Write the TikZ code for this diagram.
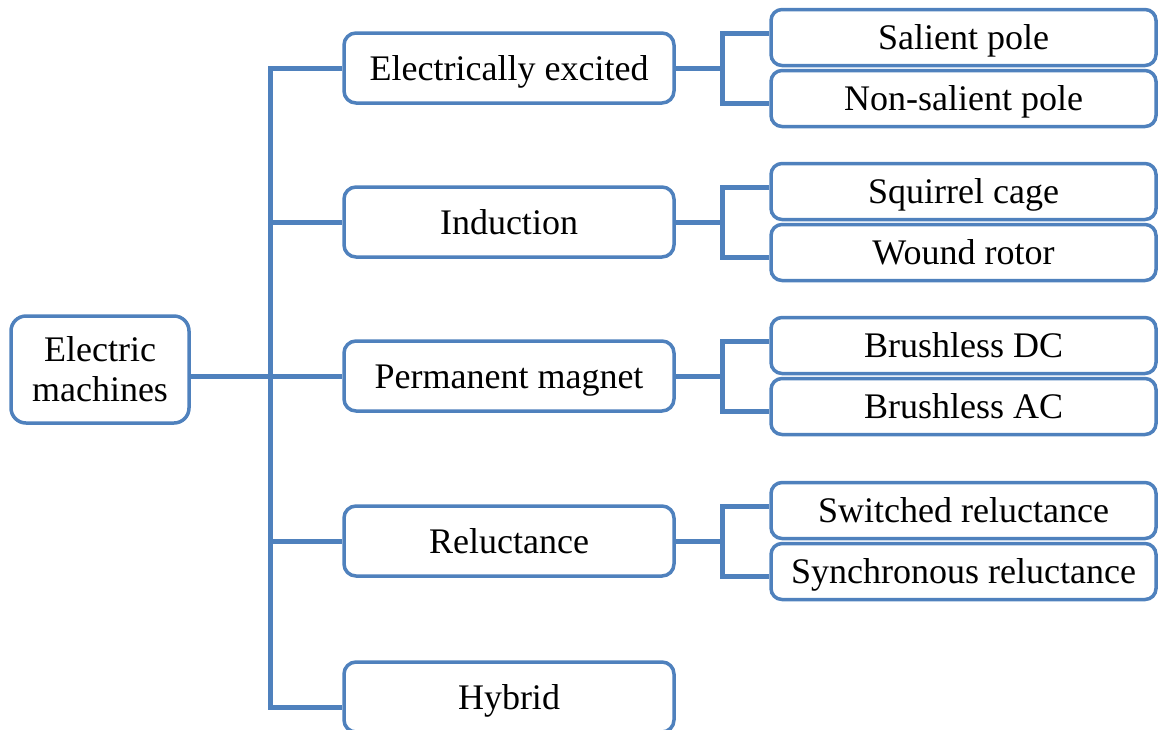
\documentclass[tikz,border=0pt]{standalone}
\usepackage{fontspec}
\setmainfont{Liberation Serif}
\definecolor{edge}{RGB}{79,129,189}
\begin{document}
\begin{tikzpicture}[x=1pt,y=-1pt,
  base/.style={draw=edge, line width=3.5pt, fill=white, align=center, inner sep=0pt,
    font=\fontsize{36}{40}\selectfont},
  rootbox/.style={base, rounded corners=15pt, minimum width=178pt, minimum height=107pt},
  midbox/.style={base, rounded corners=12pt, minimum width=330pt, minimum height=70pt,
    text height=28pt, text depth=4pt},
  subbox/.style={base, rounded corners=11pt, minimum width=385pt, minimum height=56pt,
    text height=28pt, text depth=4pt},
  link/.style={draw=edge, line width=5pt}]
\useasboundingbox (0,0) rectangle (1158,729);

% root and first level
\node[rootbox] (root) at (100,369.5) {Electric\\machines};
\node[midbox] (ee)  at (509,68)  {Electrically excited};
\node[midbox] (ind) at (509,222) {Induction};
\node[midbox] (pm)  at (509,376) {Permanent magnet};
\node[midbox] (rel) at (509,541) {Reluctance};
\node[midbox] (hyb) at (509,697) {Hybrid};

% second level
\node[subbox] (sal)  at (963.5,37.5)  {Salient pole};
\node[subbox] (nsal) at (963.5,98.5)  {Non-salient pole};
\node[subbox] (sq)   at (963.5,191.5) {Squirrel cage};
\node[subbox] (wr)   at (963.5,252.5) {Wound rotor};
\node[subbox] (bdc)  at (963.5,345.5) {Brushless DC};
\node[subbox] (bac)  at (963.5,406.5) {Brushless AC};
\node[subbox] (sw)   at (963.5,510.5) {Switched reluctance};
\node[subbox] (syn)  at (963.5,571.5) {Synchronous reluctance};

% trunk
\coordinate (trunk) at (270.5,374);
\coordinate (hybin) at ([yshift=-10pt]hyb.west);
\draw[link] (root.east |- pm.west) -- (pm.west);
\draw[link] (ee.west) -| (trunk |- hybin) -- (hybin);
\draw[link] (trunk |- ind.west) -- (ind.west);
\draw[link] (trunk |- rel.west) -- (rel.west);

% brackets to the second level
\coordinate (j1) at ([xshift=47pt]ee.east);
\coordinate (j2) at ([xshift=47pt]ind.east);
\coordinate (j3) at ([xshift=47pt]pm.east);
\coordinate (j4) at ([xshift=47pt]rel.east);
\draw[link] (ee.east) -- (j1);
\draw[link] (ind.east) -- (j2);
\draw[link] (pm.east) -- (j3);
\draw[link] (rel.east) -- (j4);
\draw[link] ([yshift=4.5pt]sal.west) -| (j1) |- ([yshift=-4.5pt]nsal.west);
\draw[link] ([yshift=4.5pt]sq.west)  -| (j2) |- ([yshift=-4.5pt]wr.west);
\draw[link] ([yshift=4.5pt]bdc.west) -| (j3) |- ([yshift=-4.5pt]bac.west);
\draw[link] ([yshift=4.5pt]sw.west)  -| (j4) |- ([yshift=-4.5pt]syn.west);
\end{tikzpicture}
\end{document}
